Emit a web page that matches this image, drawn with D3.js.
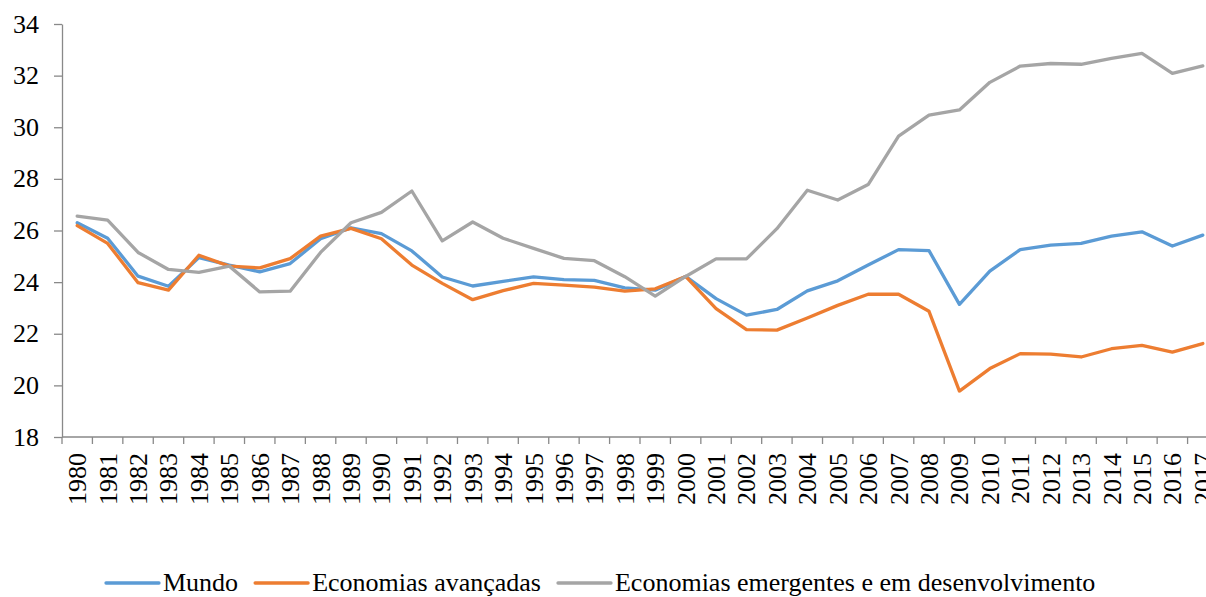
<!DOCTYPE html>
<html>
<head>
<meta charset="utf-8">
<script src="https://cdn.jsdelivr.net/npm/d3@7"></script>
</head>
<body style="margin:0">
<svg id="s" width="1206" height="597"></svg>
<script>
const years = d3.range(1980, 2018).map(String);
const yTicks = [18, 20, 22, 24, 26, 28, 30, 32, 34];
const seriesNames = ['Mundo', 'Economias avançadas', 'Economias emergentes e em desenvolvimento'];
const seriesColors = ['#5B9BD5', '#ED7D31', '#A5A5A5'];

const mundo = [26.30, 25.70, 24.23, 23.84, 24.95, 24.66, 24.40, 24.72, 25.68, 26.10,
  25.88, 25.21, 24.20, 23.85, 24.03, 24.20, 24.10, 24.07, 23.78, 23.69,
  24.22, 23.36, 22.72, 22.94, 23.66, 24.05, 24.66, 25.26, 25.22, 23.14,
  24.43, 25.26, 25.43, 25.50, 25.78, 25.95, 25.40, 25.82];
const avancadas = [26.19, 25.50, 23.98, 23.69, 25.04, 24.62, 24.55, 24.91, 25.78, 26.08,
  25.68, 24.66, 23.95, 23.32, 23.67, 23.95, 23.88, 23.81, 23.65, 23.74,
  24.22, 22.97, 22.16, 22.14, 22.61, 23.10, 23.53, 23.53, 22.87, 19.78,
  20.65, 21.23, 21.21, 21.10, 21.42, 21.55, 21.29, 21.62];
const emergentes = [26.56, 26.40, 25.15, 24.49, 24.38, 24.62, 23.62, 23.65, 25.15, 26.30,
  26.70, 27.53, 25.60, 26.33, 25.70, 25.31, 24.92, 24.83, 24.21, 23.46,
  24.22, 24.90, 24.90, 26.07, 27.56, 27.18, 27.78, 29.66, 30.47, 30.67,
  31.74, 32.37, 32.47, 32.44, 32.67, 32.86, 32.09, 32.38];

const axisColor = '#898989';
const s = d3.select('#s');

// the plot runs a little past the right edge of the picture, like the original
const x = d3.scaleBand().domain(years).range([62, 1218]);
const y = d3.scaleLinear().domain([18, 34]).range([437, 24]);
const cx = (d) => x(d) + x.bandwidth() / 2;

function label(txt, px, py, anchor, rot) {
  const t = s.append('text')
    .attr('x', px).attr('y', py).attr('font-size', 26)
    .style('font-family', '"Liberation Serif"')
    .attr('text-anchor', anchor)
    .text(txt);
  if (rot) t.attr('transform', `rotate(-90,${px},${py})`);
  t.node().getComputedTextLength();
  return t;
}

// y axis
const yAxis = s.append('g')
  .attr('transform', 'translate(62,0)')
  .call(d3.axisLeft(y).tickValues(yTicks).tickSize(8).tickSizeOuter(0).tickFormat(''));
yAxis.select('.domain').attr('stroke', axisColor).attr('stroke-width', 1.3);
yAxis.selectAll('.tick line').attr('stroke', axisColor).attr('stroke-width', 1.3);
yAxis.selectAll('.tick text').remove();
yTicks.forEach((d) => label(d, 39, y(d) + 8.6, 'end', false));

// x axis line + ticks at band edges
const edges = years.map((d) => x(d)).concat([x.range()[1]]);
s.append('line')
  .attr('x1', x.range()[0]).attr('x2', x.range()[1])
  .attr('y1', y(18)).attr('y2', y(18))
  .attr('stroke', axisColor).attr('stroke-width', 1.3);
s.selectAll('line.tk')
  .data(edges)
  .enter()
  .append('line')
  .attr('class', 'tk')
  .attr('x1', (d) => d).attr('x2', (d) => d)
  .attr('y1', y(18)).attr('y2', y(18) + 7)
  .attr('stroke', axisColor).attr('stroke-width', 1.3);
years.forEach((d) => label(d, cx(d) + 9, 453, 'end', true));

// lines
const line = d3.line()
  .x((d, i) => cx(years[i]))
  .y((d) => y(d));
s.selectAll('path.series')
  .data([mundo, avancadas, emergentes])
  .enter()
  .append('path')
  .attr('class', 'series')
  .attr('d', (d) => line(d))
  .attr('fill', 'none')
  .attr('stroke', (d, i) => seriesColors[i])
  .attr('stroke-width', 3.3)
  .attr('stroke-linejoin', 'round')
  .attr('stroke-linecap', 'round');

// legend
let xPos = 106;
const yPos = 583;
seriesNames.forEach((name, i) => {
  s.append('line')
    .attr('x1', xPos).attr('x2', xPos + 53)
    .attr('y1', yPos).attr('y2', yPos)
    .attr('stroke', seriesColors[i])
    .attr('stroke-width', 3.3)
    .attr('stroke-linecap', 'round');
  const t = label(name, xPos + 57, yPos + 8, 'start', false);
  xPos = xPos + 57 + t.node().getComputedTextLength() + 17;
});
</script>
</body>
</html>
